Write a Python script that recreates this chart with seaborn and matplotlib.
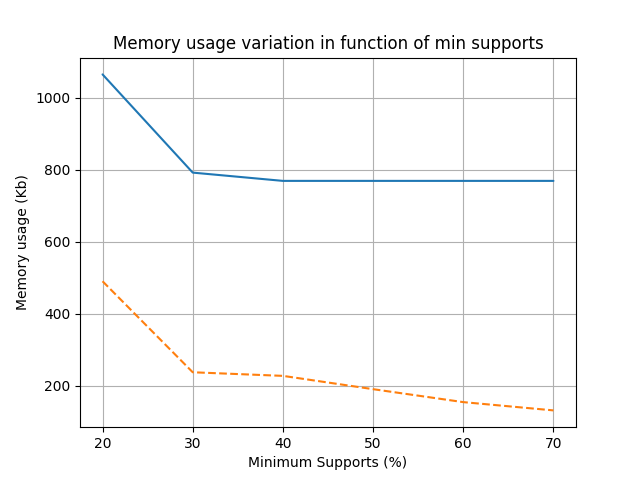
import seaborn as sns
import matplotlib.pyplot as plt
import pandas as pd

# Values
min_supports = [20, 30, 40, 50, 60, 70]
memory_a = [1065, 792, 769, 769, 769, 769]
memory_b = [490, 237, 227, 190, 154, 131]

df = pd.DataFrame({"support": min_supports, "a": memory_a, "b": memory_b})

sns.set_style("ticks", {
    "text.color": "black",
    "axes.labelcolor": "black",
    "axes.edgecolor": "black",
    "xtick.color": "black",
    "ytick.color": "black",
})
plt.rcParams["font.family"] = ["DejaVu Sans"]

fig, ax = plt.subplots(figsize=(6.4, 4.8), dpi=100)

sns.lineplot(data=df, x="support", y="a", color="#1f77b4", ax=ax)
sns.lineplot(data=df, x="support", y="b", color="#ff7f0e", linestyle="--", ax=ax)

ax.grid(True, color="#b0b0b0", linewidth=0.8)
ax.set_axisbelow(True)
ax.set_title("Memory usage variation in function of min supports")
ax.set_xlabel("Minimum Supports (%)")
ax.set_ylabel("Memory usage (Kb)")

plt.savefig("out.png", dpi=100)
plt.close()
